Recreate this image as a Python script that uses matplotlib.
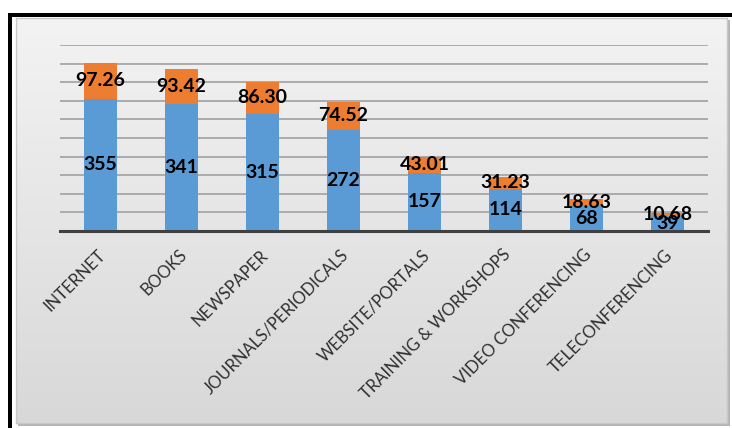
import matplotlib.pyplot as plt
import matplotlib.patches as mpatches
import matplotlib.transforms as mtransforms
from matplotlib.colors import LinearSegmentedColormap
import numpy as np

plt.rcParams['font.family'] = ['Lato', 'DejaVu Sans']

# Data ------------------------------------------------------------------------
categories = ['INTERNET', 'BOOKS', 'NEWSPAPER', 'JOURNALS/PERIODICALS',
              'WEBSITE/PORTALS', 'TRAINING & WORKSHOPS', 'VIDEO CONFERENCING',
              'TELECONFERENCING']
counts = [355, 341, 315, 272, 157, 114, 68, 39]
percents = [97.26, 93.42, 86.30, 74.52, 43.01, 31.23, 18.63, 10.68]
grid_values = [50, 100, 150, 200, 250, 300, 350, 400, 450, 500]

# Figure and frame ------------------------------------------------------------
W, H = 732, 428
fig = plt.figure(figsize=(W / 100, H / 100), dpi=100)
fig.patch.set_facecolor('white')


def px(x0, y0, x1, y1):
    # pixel box (top-left origin) -> figure fraction rect
    return [x0 / W, 1 - y1 / H, (x1 - x0) / W, (y1 - y0) / H]


fig.patches.append(mpatches.Rectangle((8 / W, 0), 1, 1 - 13 / H, transform=fig.transFigure,
                                      facecolor='black', edgecolor='none', zorder=-3))
fig.patches.append(mpatches.Rectangle((12 / W, 0), 1, 1 - 17 / H, transform=fig.transFigure,
                                      facecolor='white', edgecolor='none', zorder=-2))
fig.patches.append(mpatches.Rectangle((18 / W, 1 - 426 / H), 712 / W, 406 / H,
                                      transform=fig.transFigure,
                                      facecolor='#b5b5b5', edgecolor='none', zorder=-1))

bg = fig.add_axes(px(16, 18, 727, 423))
grad = np.linspace(0, 1, 256).reshape(-1, 1)
cmap = LinearSegmentedColormap.from_list('bg', ['#f3f3f3', '#d8d8d8'])
bg.imshow(grad, aspect='auto', cmap=cmap, extent=[0, 1, 0, 1])
bg.set_xticks([])
bg.set_yticks([])
for s in bg.spines.values():
    s.set_color('#c8c8c8')
    s.set_linewidth(1.0)

# Chart -----------------------------------------------------------------------
ax = fig.add_axes(px(60, 45, 708, 231))
ax.set_facecolor('none')
x = np.arange(len(categories))

ax.bar(x, counts, width=0.4, color='#5B9BD5', zorder=3)
ax.bar(x, percents, bottom=counts, width=0.4, color='#ED7D31', zorder=3)

for v in grid_values:
    ax.axhline(v, color='#a6a6a6', lw=1.3, zorder=1)
ax.axhline(0, color='#404040', lw=2.2, zorder=4, clip_on=False)

for i, (c, p) in enumerate(zip(counts, percents)):
    ax.text(i, c / 2, f'{c}', ha='center', va='center', fontsize=14,
            fontweight='bold', color='black', zorder=5)
    ax.text(i, c + p / 2, f'{p:.2f}', ha='center', va='center', fontsize=14,
            fontweight='bold', color='black', zorder=5)

ax.set_xlim(-0.5, len(categories) - 0.5)
ax.set_ylim(0, 500)
ax.set_yticks([])
for s in ax.spines.values():
    s.set_visible(False)

ax.set_xticks(x)
ax.set_xticklabels(categories, rotation=45, ha='right', rotation_mode='anchor',
                   fontsize=12, color='#303030')
ax.tick_params(axis='x', length=0, pad=2)
offset = mtransforms.ScaledTranslation(-3 / 100, -13 / 100, fig.dpi_scale_trans)
for lab in ax.get_xticklabels():
    lab.set_transform(lab.get_transform() + offset)

fig.savefig('out.png', dpi=100)
